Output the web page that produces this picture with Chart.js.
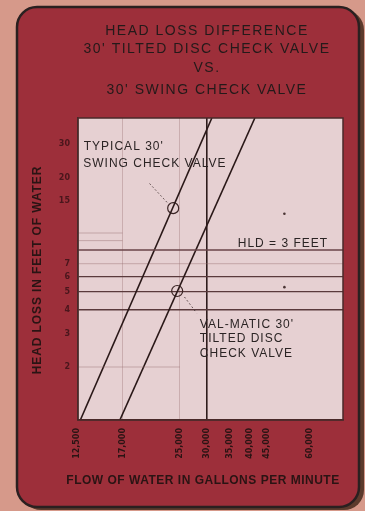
<!DOCTYPE html>
<html><head><meta charset="utf-8">
<script src="https://cdn.jsdelivr.net/npm/chart.js@4/dist/chart.umd.min.js"></script>
<style>html,body{margin:0;padding:0;background:#d6998a;}canvas{display:block;}</style>
</head><body>
<canvas id="c" width="365" height="511"></canvas>
<script>
// ---- data ----
const xTickValues = [12500, 17000, 25000, 30000, 35000, 40000, 45000, 60000];
const xTickLabels = ['12,500', '17,000', '25,000', '30,000', '35,000', '40,000', '45,000', '60,000'];
const yTickValues = [2, 3, 4, 5, 6, 7, 15, 20, 30];
const xRange = [12600, 74900];
const yRange = [1.05, 41.3];
const swingFlow = [12800, 31000];
const swingLoss = [1.05, 41.3];
const tiltedFlow = [16700, 41400];
const tiltedLoss = [1.05, 41.3];
const hldFlow = [12600, 74900];
const hldLoss = [8.3, 8.3];
const circleFlow = [23900, 24550];
const circleLoss = [13.8, 5.04];
const dotFlow = [50500, 50500];
const dotLoss = [12.9, 5.28];
const swingLeaderFlow = [20400, 23100];
const swingLeaderLoss = [18.6, 14.6];
const tiltedLeaderFlow = [25800, 28000];
const tiltedLeaderLoss = [4.68, 3.85];
const faintFlowA = [12600, 17000];
const faintLossA = [10.2, 10.2];
const faintLossB = [9.3, 9.3];
const faintFlowC = [12600, 25000];
const faintLossC = [2.0, 2.0];
const titleLines = ['HEAD LOSS DIFFERENCE', "30' TILTED DISC CHECK VALVE", 'VS.', "30' SWING CHECK VALVE"];
const xTitle = 'FLOW OF WATER IN GALLONS PER MINUTE';
const yTitle = 'HEAD LOSS IN FEET OF WATER';

const pts = (xs, ys) => xs.map((x, i) => ({x: x, y: ys[i]}));
const INK = '#2a1818';

const panelPlugin = {
  id: 'panel',
  beforeDraw(chart) {
    const ctx = chart.ctx;
    ctx.save();
    ctx.fillStyle = '#d6998a';
    ctx.fillRect(0, 0, chart.width, chart.height);
    ctx.fillStyle = '#5c3a2c';
    ctx.beginPath(); ctx.roundRect(21, 10, 343, 500, 20); ctx.fill();
    ctx.fillStyle = '#9d2f3a';
    ctx.strokeStyle = '#2a2020';
    ctx.lineWidth = 2.5;
    ctx.beginPath(); ctx.roundRect(17, 7, 342, 500, 20); ctx.fill(); ctx.stroke();
    const a = chart.chartArea;
    ctx.fillStyle = '#e6d0d2';
    ctx.fillRect(a.left, a.top, a.right - a.left, a.bottom - a.top);
    ctx.restore();
  },
  afterDraw(chart) {
    const ctx = chart.ctx, a = chart.chartArea;
    ctx.save();
    ctx.strokeStyle = '#4a2a2a'; ctx.lineWidth = 1.5;
    ctx.strokeRect(a.left, a.top, a.right - a.left, a.bottom - a.top);
    ctx.fillStyle = '#241a1a';
    ctx.textAlign = 'center'; ctx.textBaseline = 'middle';
    ctx.font = '14px "Liberation Sans", Arial, sans-serif';
    ctx.letterSpacing = '1.5px';
    const ty = [31, 49, 68, 90];
    titleLines.forEach((t, i) => ctx.fillText(t, 207, ty[i]));
    ctx.font = 'bold 12px "Liberation Sans", Arial, sans-serif';
    ctx.letterSpacing = '0.5px';
    ctx.fillStyle = '#2a1414';
    ctx.fillText(xTitle, 203, 481);
    ctx.letterSpacing = '0.9px';
    ctx.translate(38, 270);
    ctx.rotate(-Math.PI / 2);
    ctx.fillText(yTitle, 0, 0);
    ctx.restore();
  }
};

const notePlugin = {
  id: 'notes',
  afterDatasetsDraw(chart) {
    const ctx = chart.ctx, xs = chart.scales.x, ys = chart.scales.y;
    const notes = [
      ["TYPICAL 30'", 13100, 29.2],
      ['SWING CHECK VALVE', 13050, 23.7],
      ['HLD = 3 FEET', 36900, 9.0],
      ["VAL-MATIC 30'", 28600, 3.33],
      ['TILTED DISC', 28600, 2.81],
      ['CHECK VALVE', 28600, 2.34]
    ];
    ctx.save();
    ctx.fillStyle = '#2b2424';
    ctx.font = '12px "Liberation Sans", Arial, sans-serif';
    ctx.letterSpacing = '1px';
    ctx.textAlign = 'left'; ctx.textBaseline = 'middle';
    notes.forEach(n => ctx.fillText(n[0], xs.getPixelForValue(n[1]), ys.getPixelForValue(n[2])));
    ctx.restore();
  }
};

const lineDs = (data, extra) => Object.assign({
  data: data, showLine: true, pointRadius: 0, borderColor: INK, borderWidth: 1.6, fill: false
}, extra || {});

new Chart(document.getElementById('c'), {
  type: 'scatter',
  data: {
    datasets: [
      lineDs(pts(faintFlowA, faintLossA), {borderColor: 'rgba(150,110,112,0.45)', borderWidth: 1}),
      lineDs(pts(faintFlowA, faintLossB), {borderColor: 'rgba(150,110,112,0.45)', borderWidth: 1}),
      lineDs(pts(faintFlowC, faintLossC), {borderColor: 'rgba(150,110,112,0.45)', borderWidth: 1}),
      lineDs(pts(hldFlow, hldLoss), {borderColor: '#6a4448', borderWidth: 1.4}),
      lineDs(pts(swingFlow, swingLoss)),
      lineDs(pts(tiltedFlow, tiltedLoss)),
      lineDs(pts(swingLeaderFlow, swingLeaderLoss), {borderDash: [1.5, 2.5], borderWidth: 1, borderColor: '#4a3a3a'}),
      lineDs(pts(tiltedLeaderFlow, tiltedLeaderLoss), {borderDash: [1.5, 2.5], borderWidth: 1, borderColor: '#4a3a3a'}),
      {data: pts(circleFlow, circleLoss), showLine: false, pointRadius: 5.5, pointStyle: 'circle',
       pointBorderColor: '#3a2424', pointBackgroundColor: 'rgba(0,0,0,0)', pointBorderWidth: 1.2},
      {data: pts(dotFlow, dotLoss), showLine: false, pointRadius: 1.3,
       pointBorderColor: '#4a3434', pointBackgroundColor: '#4a3434', pointBorderWidth: 0}
    ]
  },
  options: {
    responsive: false, animation: false, devicePixelRatio: 1,
    layout: {padding: {top: 118, right: 22, left: 0, bottom: 0}},
    plugins: {legend: {display: false}, tooltip: {enabled: false}, title: {display: false}},
    scales: {
      x: {
        type: 'logarithmic', min: xRange[0], max: xRange[1],
        afterBuildTicks: s => { s.ticks = xTickValues.map(v => ({value: v})); },
        afterFit: s => { s.height = 91; },
        border: {display: true, color: '#4a2a2a', width: 1.5},
        grid: {
          drawTicks: false,
          color: c => {
            const v = c.tick ? c.tick.value : null;
            if (v === 30000) return '#2e1c1c';
            if (v === 17000 || v === 25000) return 'rgba(150,110,112,0.35)';
            return 'rgba(0,0,0,0)';
          },
          lineWidth: c => (c.tick && c.tick.value === 30000) ? 1.6 : 1
        },
        ticks: {
          autoSkip: false, minRotation: 90, maxRotation: 90, padding: 8,
          color: '#2a1414', font: {size: 8, weight: 'bold', family: '"DejaVu Sans", sans-serif'},
          callback: v => { const i = xTickValues.indexOf(v); return i >= 0 ? xTickLabels[i] : ''; }
        }
      },
      y: {
        type: 'logarithmic', min: yRange[0], max: yRange[1],
        afterBuildTicks: s => { s.ticks = yTickValues.map(v => ({value: v})); },
        afterFit: s => { s.width = 78; },
        border: {display: true, color: '#4a2a2a', width: 1.5},
        grid: {
          drawTicks: false,
          color: c => {
            const v = c.tick ? c.tick.value : null;
            if (v === 4 || v === 5 || v === 6) return '#5a3a3c';
            if (v === 7) return 'rgba(150,110,112,0.35)';
            return 'rgba(0,0,0,0)';
          },
          lineWidth: c => (c.tick && c.tick.value === 4) ? 1.6 : 1.2
        },
        ticks: {
          autoSkip: false, padding: 8, color: '#4a161c',
          font: {size: 8, weight: 'bold', family: '"DejaVu Sans", sans-serif'},
          callback: v => yTickValues.indexOf(v) >= 0 ? String(v) : ''
        }
      }
    }
  },
  plugins: [panelPlugin, notePlugin]
});
</script>
</body></html>
